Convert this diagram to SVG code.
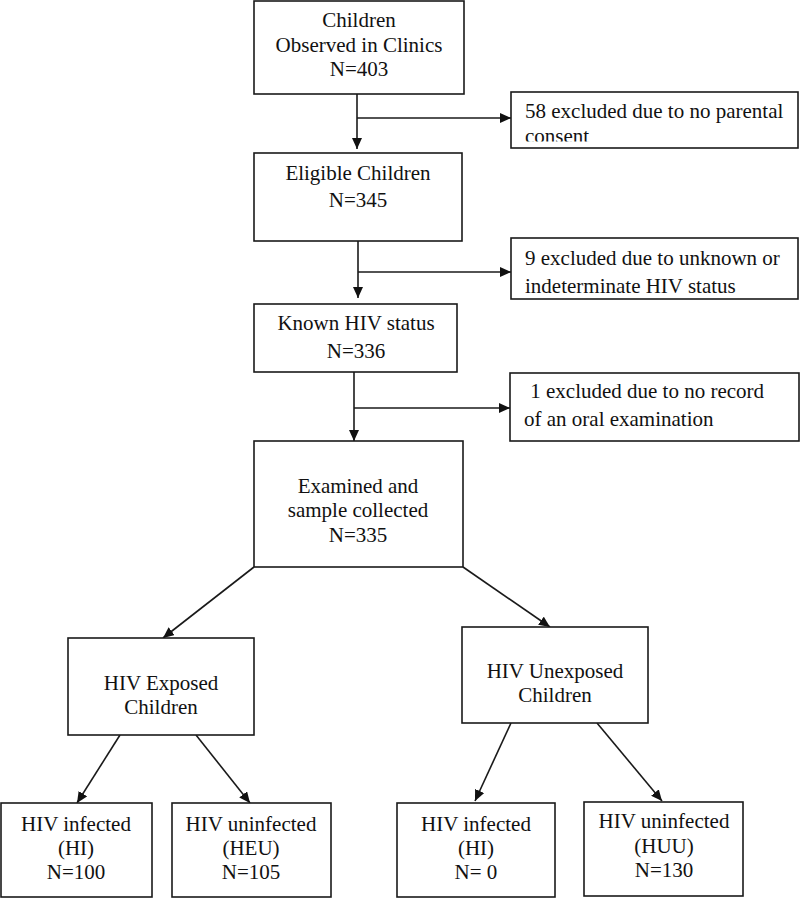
<svg xmlns="http://www.w3.org/2000/svg" width="800" height="898" viewBox="0 0 800 898">
<style>
  .box { fill: #ffffff; stroke: #1a1a1a; stroke-width: 1.6; }
  .t { font-family: "Liberation Serif", "Times New Roman", serif; font-size: 21px; fill: #111111; }
  .c { text-anchor: middle; }
  .ln { fill: none; stroke: #1a1a1a; stroke-width: 1.6; }
  .arr { marker-end: url(#ah); }
</style>
<defs>
  <marker id="ah" markerUnits="userSpaceOnUse" markerWidth="11" markerHeight="10" refX="11" refY="5" orient="auto">
    <path d="M0,0 L11,5 L0,10 z" fill="#111111"/>
  </marker>
  <clipPath id="clipEx1">
    <rect x="511" y="92" width="287" height="49.5"/>
  </clipPath>
</defs>
<rect width="800" height="898" fill="#ffffff"/>

<g id="connectors">
  <line class="ln arr" x1="357" y1="94" x2="357" y2="149"/>
  <line class="ln arr" x1="357" y1="118" x2="511" y2="118"/>
  <line class="ln arr" x1="358" y1="241" x2="358" y2="298"/>
  <line class="ln arr" x1="358" y1="272" x2="511" y2="272"/>
  <line class="ln arr" x1="354" y1="372" x2="354" y2="441"/>
  <line class="ln arr" x1="354" y1="408" x2="510" y2="408"/>
  <line class="ln arr" x1="254" y1="567" x2="163" y2="638"/>
  <line class="ln arr" x1="463" y1="567" x2="550" y2="627"/>
  <line class="ln arr" x1="120" y1="735" x2="77" y2="803"/>
  <line class="ln arr" x1="196" y1="735" x2="250" y2="803"/>
  <line class="ln arr" x1="511" y1="723" x2="475" y2="801"/>
  <line class="ln arr" x1="597" y1="723" x2="662" y2="801"/>
</g>

<g id="observed">
  <rect class="box" x="254" y="1" width="210" height="93"/>
  <text class="t c" x="359" y="27">Children</text>
  <text class="t c" x="359" y="52">Observed in Clinics</text>
  <text class="t c" x="359" y="76">N=403</text>
</g>

<g id="excluded-consent">
  <rect class="box" x="511" y="92" width="287" height="56"/>
  <text class="t" x="525" y="118">58 excluded due to no parental</text>
  <text class="t" x="525" y="143" clip-path="url(#clipEx1)">consent</text>
</g>

<g id="eligible">
  <rect class="box" x="254" y="153" width="208" height="88"/>
  <text class="t c" x="358" y="180">Eligible Children</text>
  <text class="t c" x="358" y="207">N=345</text>
</g>

<g id="excluded-status">
  <rect class="box" x="511" y="238" width="287" height="61"/>
  <text class="t" x="525" y="265">9 excluded due to unknown or</text>
  <text class="t" x="525" y="293">indeterminate HIV status</text>
</g>

<g id="known">
  <rect class="box" x="254" y="304" width="203" height="68"/>
  <text class="t c" x="356" y="330">Known HIV status</text>
  <text class="t c" x="356" y="358">N=336</text>
</g>

<g id="excluded-exam">
  <rect class="box" x="510" y="373" width="289" height="68"/>
  <text class="t" x="525" y="398" xml:space="preserve"> 1 excluded due to no record</text>
  <text class="t" x="524" y="426">of an oral examination</text>
</g>

<g id="examined">
  <rect class="box" x="254" y="441" width="209" height="126"/>
  <text class="t c" x="358" y="493">Examined and</text>
  <text class="t c" x="358" y="517">sample collected</text>
  <text class="t c" x="358" y="542">N=335</text>
</g>

<g id="exposed">
  <rect class="box" x="68" y="638" width="186" height="97"/>
  <text class="t c" x="161" y="690">HIV Exposed</text>
  <text class="t c" x="161" y="714">Children</text>
</g>

<g id="unexposed">
  <rect class="box" x="462" y="627" width="186" height="96"/>
  <text class="t c" x="555" y="678">HIV Unexposed</text>
  <text class="t c" x="555" y="702">Children</text>
</g>

<g id="exposed-infected">
  <rect class="box" x="1" y="803" width="151" height="94"/>
  <text class="t c" x="76" y="831">HIV infected</text>
  <text class="t c" x="76" y="855">(HI)</text>
  <text class="t c" x="76" y="879">N=100</text>
</g>

<g id="exposed-uninfected">
  <rect class="box" x="172" y="803" width="159" height="94"/>
  <text class="t c" x="251" y="831">HIV uninfected</text>
  <text class="t c" x="251" y="855">(HEU)</text>
  <text class="t c" x="251" y="879">N=105</text>
</g>

<g id="unexposed-infected">
  <rect class="box" x="397" y="803" width="158" height="94"/>
  <text class="t c" x="476" y="831">HIV infected</text>
  <text class="t c" x="476" y="855">(HI)</text>
  <text class="t c" x="476" y="879">N= 0</text>
</g>

<g id="unexposed-uninfected">
  <rect class="box" x="584" y="802" width="159" height="94"/>
  <text class="t c" x="664" y="828">HIV uninfected</text>
  <text class="t c" x="664" y="853">(HUU)</text>
  <text class="t c" x="664" y="877">N=130</text>
</g>
</svg>
